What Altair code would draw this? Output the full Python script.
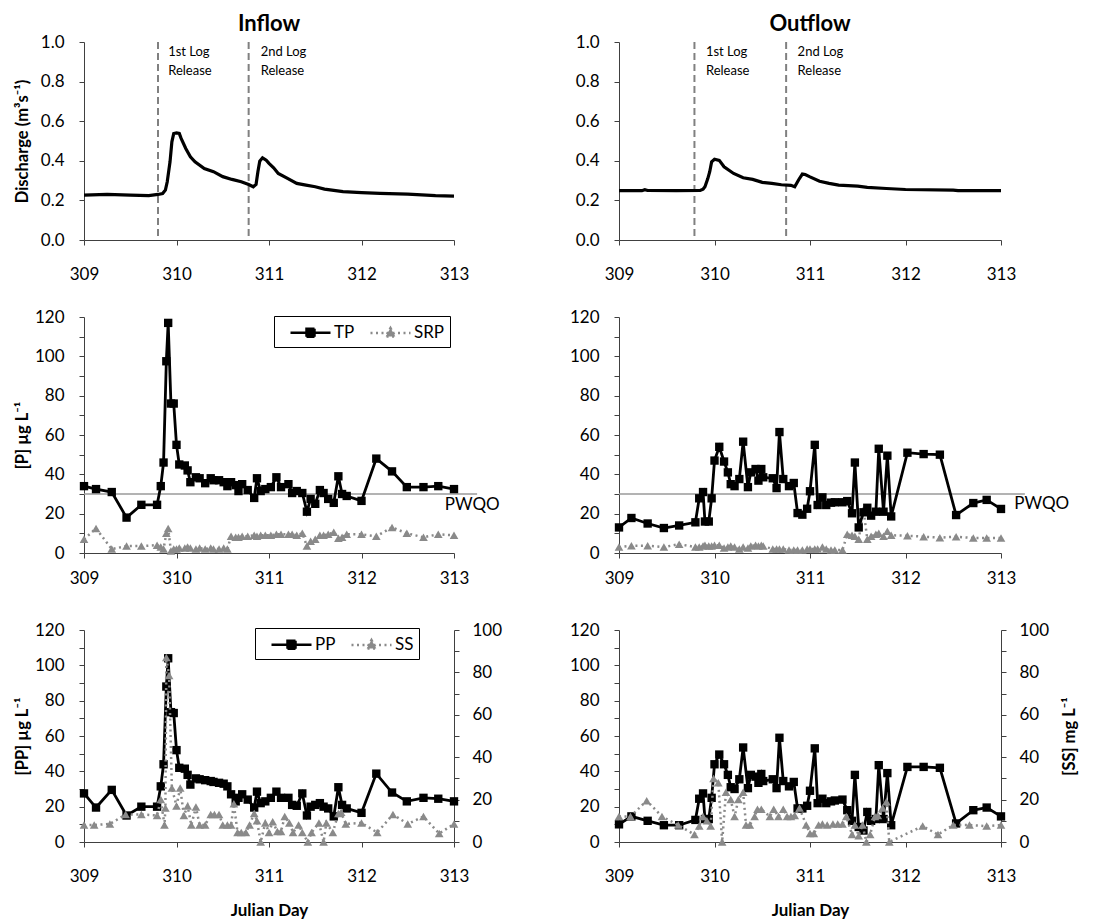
import altair as alt
import pandas as pd

FONT = "Lato"
AX = "#404040"
GRAY = "#8a8a8a"

# ---------------- data ----------------
q_in_day = [309.0, 309.25, 309.5, 309.7, 309.8, 309.85, 309.88, 309.9, 309.93, 309.95, 309.97, 310.0,
            310.03, 310.05, 310.1, 310.15, 310.2, 310.3, 310.4, 310.5, 310.6, 310.7, 310.78, 310.83,
            310.86, 310.88, 310.9, 310.93, 310.97, 311.0, 311.05, 311.1, 311.2, 311.3, 311.4, 311.5,
            311.6, 311.8, 312.0, 312.2, 312.5, 312.8, 313.0]
q_in = [0.227, 0.23, 0.227, 0.224, 0.23, 0.235, 0.252, 0.294, 0.395, 0.496, 0.538, 0.541,
        0.538, 0.513, 0.462, 0.42, 0.395, 0.361, 0.345, 0.32, 0.306, 0.294, 0.28, 0.269,
        0.281, 0.345, 0.398, 0.415, 0.403, 0.387, 0.365, 0.336, 0.311, 0.286, 0.277, 0.269,
        0.257, 0.244, 0.239, 0.235, 0.232, 0.224, 0.222]

q_out_day = [309.0, 309.24, 309.27, 309.3, 309.6, 309.85, 309.88, 309.9, 309.93, 309.95, 309.97, 310.0,
             310.05, 310.1, 310.2, 310.3, 310.4, 310.5, 310.6, 310.7, 310.8, 310.84, 310.88, 310.92,
             310.95, 311.0, 311.1, 311.2, 311.3, 311.5, 311.6, 311.8, 312.0, 312.5, 312.55, 313.0]
q_out = [0.249, 0.249, 0.254, 0.25, 0.249, 0.25, 0.256, 0.269, 0.31, 0.345, 0.395, 0.408,
         0.402, 0.37, 0.336, 0.314, 0.306, 0.291, 0.286, 0.279, 0.276, 0.269, 0.303, 0.333,
         0.331, 0.319, 0.297, 0.286, 0.277, 0.272, 0.266, 0.26, 0.255, 0.252, 0.249, 0.249]

release_in = [309.80, 310.78]
release_out = [309.79, 310.75]
release_text = ["1st Log", "Release", "2nd Log", "Release"]
release_text_y = [0.95, 0.853, 0.95, 0.853]
release_text_x_in = [309.91, 309.91, 310.91, 310.91]
release_text_x_out = [309.91, 309.91, 310.87, 310.87]

in_day = [309.00, 309.13, 309.30, 309.46, 309.62, 309.79, 309.83, 309.86, 309.89, 309.91,
          309.94, 309.97, 310.00, 310.03, 310.09, 310.12, 310.15, 310.21, 310.25, 310.31,
          310.37, 310.40, 310.46, 310.51, 310.55, 310.59, 310.64, 310.67, 310.71, 310.77,
          310.84, 310.87, 310.91, 310.96, 311.02, 311.08, 311.13, 311.21, 311.25, 311.30,
          311.36, 311.41, 311.45, 311.50, 311.55, 311.59, 311.64, 311.70, 311.75, 311.79,
          311.84, 312.00, 312.16, 312.33, 312.49, 312.67, 312.83, 313.00]
in_tp = [34, 32.5, 31, 18, 24.5, 24.5, 34, 46, 97.5, 117,
         76, 76, 55, 45, 44.5, 42, 36, 38.5, 38, 35.5,
         38, 37, 37, 36, 34, 36, 34.5, 31.5, 35, 32,
         28, 38, 31.5, 32.5, 33.5, 38.5, 33.5, 35, 30.5, 31.5,
         30.5, 21, 27.5, 25, 32, 30.5, 27.5, 25.5, 39, 30,
         29, 26.5, 48, 41.5, 33.5, 33.5, 34, 32.5]
in_srp = [7, 12.5, 2, 3.5, 3.5, 4, 3, 2, 10, 12.5,
          1, 2, 2, 2.5, 2.5, 3, 2.5, 2, 2.5, 2,
          2.5, 2, 2, 2.5, 2, 8.5, 8, 8, 8.5, 8.5,
          9, 8.5, 9, 9, 9, 9.5, 9.5, 9.5, 9.5, 9,
          10, 3.5, 6, 7, 9, 9, 9.5, 10.5, 7.5, 8,
          9.5, 9.5, 8.5, 13, 10, 8, 9.5, 9]
in_pp = [27.5, 19.5, 29.5, 15, 20, 20, 31.5, 44, 88, 104,
         73.5, 73, 52, 42, 41.5, 38, 32.5, 36, 35.5, 35,
         34.5, 34, 33.5, 33, 31.5, 27, 23, 25, 27, 24,
         19.5, 28.5, 22, 23, 25, 28.5, 25, 25, 21, 20.5,
         27.5, 15, 20, 21, 22, 20, 19, 14.5, 31, 21,
         19, 16.5, 38.7, 28, 23, 25, 24.5, 23]
in_ss_day = [309.00, 309.11, 309.28, 309.45, 309.62, 309.79, 309.83, 309.87, 309.88, 309.89,
             309.92, 309.95, 310.00, 310.04, 310.08, 310.12, 310.16, 310.21, 310.25, 310.31,
             310.37, 310.41, 310.46, 310.50, 310.55, 310.59, 310.62, 310.66, 310.70, 310.75,
             310.79, 310.84, 310.87, 310.91, 310.96, 311.00, 311.04, 311.09, 311.13, 311.17,
             311.22, 311.26, 311.32, 311.36, 311.42, 311.46, 311.54, 311.59, 311.62, 311.69,
             311.75, 311.78, 311.83, 312.00, 312.17, 312.34, 312.50, 312.67, 312.84, 313.00]
in_ss = [8, 8, 8.5, 13, 13, 12.5, 20, 8, 16, 87,
         78.5, 25.5, 17, 25.5, 12.5, 17, 8, 16.5, 8, 8,
         13, 13, 13, 8, 8, 8, 18, 4.5, 4.5, 4.5,
         8, 13.5, 10, 0, 9, 4.5, 9.5, 5, 5, 12,
         9, 4.5, 8, 4.5, 0, 4.5, 9, 0, 9, 4.5,
         13.5, 14, 8.5, 9, 4.5, 13, 8.5, 12, 4, 8.5]

out_day = [309.00, 309.13, 309.30, 309.47, 309.63, 309.80, 309.84, 309.88, 309.90, 309.94,
           309.97, 310.00, 310.05, 310.10, 310.14, 310.17, 310.21, 310.26, 310.30, 310.35,
           310.38, 310.43, 310.46, 310.49, 310.51, 310.61, 310.65, 310.68, 310.72, 310.78,
           310.83, 310.87, 310.92, 310.97, 311.00, 311.05, 311.08, 311.13, 311.17, 311.22,
           311.26, 311.34, 311.39, 311.44, 311.47, 311.51, 311.56, 311.60, 311.64, 311.69,
           311.72, 311.77, 311.81, 311.85, 312.02, 312.19, 312.36, 312.53, 312.71, 312.85,
           313.00]
out_tp = [13, 17.8, 15, 12.7, 14, 15.6, 27.8, 31, 16, 16,
          27.8, 47, 54, 46.5, 41, 35, 34, 37.6, 56.6, 33.5,
          41, 42.7, 36.8, 42.7, 38.5, 38, 33, 61.5, 37.6, 34,
          35.6, 20.3, 19.5, 22.5, 31.4, 55, 24.4, 28.3, 24.4, 25.6,
          25.8, 25.8, 26.4, 20.2, 46, 13, 20.7, 23, 19, 21,
          53, 21, 49.5, 18.6, 51, 50.3, 50, 19.3, 25.4, 27,
          22.4]
out_srp = [3, 3.7, 3.7, 3, 4.5, 3, 3, 3.5, 4, 3.5,
           3.5, 4, 4, 2.5, 3, 3.5, 3, 2, 3, 2.5,
           3.5, 4, 3.5, 4, 3.5, 2, 2, 2, 2, 1.5,
           1.5, 1.5, 1.5, 2, 2, 2, 2, 3, 2, 1.5,
           1.5, 1.5, 9.5, 9, 8.5, 7, 22, 7, 8.5, 9.5,
           10, 8.5, 11, 9, 8.8, 8.3, 7.8, 8.3, 7.6, 7.6,
           7.6]
out_pp = [10, 14.5, 12, 9.5, 9.5, 12.5, 24.5, 27.5, 13, 13,
          25, 44, 49.5, 44, 38, 31, 30, 35.5, 53.5, 30.5,
          38, 37, 33.5, 38.5, 34.5, 35.5, 30.5, 59, 34.5, 31.5,
          34, 19, 19, 20.5, 29, 53, 22, 24.5, 22, 23,
          23.5, 24, 18, 12, 38, 8.5, 6.5, 17, 12, 13,
          43.5, 13, 39, 9.5, 42.5, 42.5, 42, 10.5, 18, 19.5,
          14.5]
out_ss_day = [309.00, 309.12, 309.29, 309.45, 309.62, 309.79, 309.84, 309.88, 309.92, 309.96,
              309.99, 310.04, 310.08, 310.12, 310.17, 310.21, 310.25, 310.30, 310.33, 310.37,
              310.42, 310.45, 310.49, 310.58, 310.62, 310.67, 310.72, 310.76, 310.80, 310.84,
              310.89, 310.96, 311.00, 311.04, 311.09, 311.13, 311.18, 311.24, 311.29, 311.34,
              311.38, 311.44, 311.47, 311.51, 311.55, 311.59, 311.63, 311.68, 311.71, 311.76,
              311.80, 311.83, 312.18, 312.34, 312.50, 312.67, 312.85, 313.00]
out_ss = [12, 12, 19.5, 12, 8, 3.5, 7.5, 12, 10, 7.5,
          30, 28, 0, 23.5, 20, 12, 20, 23.5, 8, 8,
          12, 15.5, 15.5, 12, 15.5, 12, 15.5, 12, 12, 12.5,
          16, 8, 4, 4, 8, 8.5, 8, 8.5, 8.5, 8.5,
          12, 3.5, 8, 3, 8, 0, 3.5, 12, 12.5, 16,
          19, 0, 7.5, 3.5, 8, 8, 7.5, 8]

PWQO = 30
x_ticks = [309, 309.5, 310, 310.5, 311, 311.5, 312, 312.5, 313]
q_ticks = [0, 0.2, 0.4, 0.6, 0.8, 1.0]
p_ticks = list(range(0, 130, 10))
ss_ticks = list(range(0, 110, 10))

# ---------------- layout ----------------
W1, W2 = 370, 382
H1, H2, H3 = 198, 236, 212

PATH_SQ = "M-2,0L2,0M-0.4,-0.4L0.4,-0.4L0.4,0.4L-0.4,0.4Z"
PATH_TRI = "M-2,0L2,0M0,-0.5L0.48,0.35L-0.48,0.35Z"


def xaxis(pad, title=None):
    kw = dict(values=x_ticks, format="d", labelExpr="datum.value % 1 == 0 ? datum.label : ''",
              labelPadding=pad, tickSize=5, labelFontSize=17, labelFont=FONT, labelColor="black",
              domainColor=AX, tickColor=AX, grid=False, labelOverlap=False, labelFlush=False)
    if title:
        kw.update(title=title, titleFontSize=17, titleFont=FONT, titleFontWeight="bold",
                  titleY=68, titleBaseline="middle", titleColor="black")
    else:
        kw["title"] = None
    return alt.Axis(**kw)


def yaxis(values, fmt, h, title=None, orient="left", every20=False):
    kw = dict(values=values, format=fmt, orient=orient, tickSize=5, labelFontSize=17,
              labelFont=FONT, labelColor="black", domainColor=AX, tickColor=AX, grid=False,
              labelOverlap=False, labelPadding=15 if orient == "left" else 13)
    if every20:
        kw["labelExpr"] = "datum.value % 20 == 0 ? datum.label : ''"
    if title:
        kw.update(title=title, titleX=-62 if orient == "left" else 68, titleY=h / 2,
                  titleAngle=270, titleBaseline="middle", titleAlign="center",
                  titleFontSize=16.5, titleFontWeight="bold", titleFont=FONT, titleColor="black")
    else:
        kw["title"] = None
    return alt.Axis(**kw)


def xenc(pad, title=None, field="day:Q"):
    return alt.X(field, scale=alt.Scale(domain=[309, 313], nice=False, zero=False),
                 axis=xaxis(pad, title))


def legend_layer(names, colors, dashes, paths, lx, ly):
    lg = alt.Legend(orient="none", legendX=lx, legendY=ly, direction="horizontal", title=None,
                    labelFontSize=17, labelFont=FONT, labelColor="black", strokeColor="black",
                    fillColor="white", padding=5, symbolStrokeWidth=2.5, symbolSize=400,
                    symbolOffset=20, labelOffset=12, columnPadding=4, labelLimit=100)

    def sc(rng):
        return alt.Scale(domain=names, range=rng)

    return alt.Chart(pd.DataFrame({"series": names})).transform_filter("false").mark_point(
        filled=True, opacity=1, size=400, strokeWidth=2.5
    ).encode(
        fill=alt.Fill("series:N", scale=sc(colors), legend=lg),
        stroke=alt.Stroke("series:N", scale=sc(colors), legend=lg),
        shape=alt.Shape("series:N", scale=sc(paths), legend=lg),
        strokeDash=alt.StrokeDash("series:N", scale=sc(dashes), legend=lg),
    )


def series(df, x, y, black):
    if black:
        line = alt.Chart(df).mark_line(color="black", strokeWidth=2.8).encode(x=x, y=y)
        pts = alt.Chart(df).mark_point(shape="square", filled=True, color="black", size=70,
                                       opacity=1).encode(x=x, y=y)
    else:
        line = alt.Chart(df).mark_line(color=GRAY, strokeWidth=2.5, strokeDash=[2, 3.5]).encode(x=x, y=y)
        pts = alt.Chart(df).mark_point(shape="triangle-up", filled=True, color=GRAY, size=75,
                                       opacity=1).encode(x=x, y=y)
    return [line, pts]


def discharge_panel(qd, q, rel, tx, title, ytitle, w):
    x = xenc(21)
    y = alt.Y("q:Q", scale=alt.Scale(domain=[0, 1], nice=False),
              axis=yaxis(q_ticks, ".1f", H1, ytitle))
    df = pd.DataFrame({"day": qd, "q": q})
    rules = alt.Chart(pd.DataFrame({"day": rel})).mark_rule(
        color="#808080", strokeDash=[7, 4], strokeWidth=2).encode(x=x)
    line = alt.Chart(df).mark_line(color="black", strokeWidth=3.2).encode(x=x, y=y)
    txt = alt.Chart(pd.DataFrame({"day": tx, "q": release_text_y, "t": release_text})).mark_text(
        align="left", baseline="middle", fontSize=13, font=FONT, color="black"
    ).encode(x=x, y=y, text="t:N")
    return alt.layer(rules, line, txt).properties(
        width=w, height=H1,
        title=alt.TitleParams(title, fontSize=22, fontWeight="bold", font=FONT, offset=-3,
                              anchor="middle", color="black"))


def p_panel(day, tp, srp, w, ytitle, with_legend, pw_x, pw_y):
    x = xenc(12)
    ax = yaxis(p_ticks, "d", H2, ytitle, every20=True)
    sc = alt.Scale(domain=[0, 120], nice=False)
    df_tp = pd.DataFrame({"day": day, "v": tp})
    df_srp = pd.DataFrame({"day": day, "v": srp})
    y = alt.Y("v:Q", scale=sc, axis=ax)
    rule = alt.Chart(pd.DataFrame({"day": [309], "day2": [313.25], "v": [PWQO]})).mark_rule(
        color="#9a9a9a", strokeWidth=1.5).encode(x=x, x2="day2:Q", y=y)
    lab = alt.Chart(pd.DataFrame({"day": [pw_x], "v": [pw_y], "t": ["PWQO"]})).mark_text(
        align="left", baseline="middle", fontSize=17, font=FONT, color="black"
    ).encode(x=x, y=y, text="t:N")
    layers = [rule] + series(df_srp, x, y, False) + series(df_tp, x, y, True) + [lab]
    if with_legend:
        layers.append(legend_layer(["TP", "SRP"], ["black", GRAY], [[1, 0], [2, 3.5]],
                                   [PATH_SQ, PATH_TRI], 190, -1))
    return alt.layer(*layers).properties(width=w, height=H2)


def pp_panel(day, pp, ss_day, ss, w, ytitle, y2title, with_legend):
    x = xenc(21, "Julian Day")
    yl = alt.Y("v:Q", scale=alt.Scale(domain=[0, 120], nice=False),
               axis=yaxis(p_ticks, "d", H3, ytitle, "left", True))
    yr = alt.Y("s:Q", scale=alt.Scale(domain=[0, 100], nice=False),
               axis=yaxis(ss_ticks, "d", H3, y2title, "right", True))
    df_pp = pd.DataFrame({"day": day, "v": pp})
    df_ss = pd.DataFrame({"day": ss_day, "s": ss})
    left_layers = series(df_pp, x, yl, True)
    if with_legend:
        left_layers.append(legend_layer(["PP", "SS"], ["black", GRAY], [[1, 0], [2, 3.5]],
                                        [PATH_SQ, PATH_TRI], 171, -2))
    left = alt.layer(*left_layers)
    right = alt.layer(*series(df_ss, x, yr, False))
    return alt.layer(left, right).resolve_scale(y="independent").properties(width=w, height=H3)


p1 = discharge_panel(q_in_day, q_in, release_in, release_text_x_in, "Inflow",
                     "Discharge (m³s⁻¹)", W1)
p2 = discharge_panel(q_out_day, q_out, release_out, release_text_x_out, "Outflow", None, W2)
p3 = p_panel(in_day, in_tp, in_srp, W1, "[P] µg L⁻¹", True, 312.9, 24.4)
p4 = p_panel(out_day, out_tp, out_srp, W2, None, False, 313.14, 25)
p5 = pp_panel(in_day, in_pp, in_ss_day, in_ss, W1, "[PP] µg L⁻¹", None, True)
p6 = pp_panel(out_day, out_pp, out_ss_day, out_ss, W2, None, "[SS] mg L⁻¹", False)

chart = alt.concat(p1, p2, p3, p4, p5, p6, columns=2, spacing={"row": 77, "column": 165},
                   bounds="flush", align="each").resolve_scale(
    fill="independent", stroke="independent", shape="independent", strokeDash="independent"
).resolve_legend(
    fill="independent", stroke="independent", shape="independent", strokeDash="independent"
).properties(
    padding={"left": 5, "top": 4, "right": 5, "bottom": 0}
).configure(font=FONT).configure_view(stroke="transparent")

chart.save("out.html", embed_options={"renderer": "svg", "actions": False})
